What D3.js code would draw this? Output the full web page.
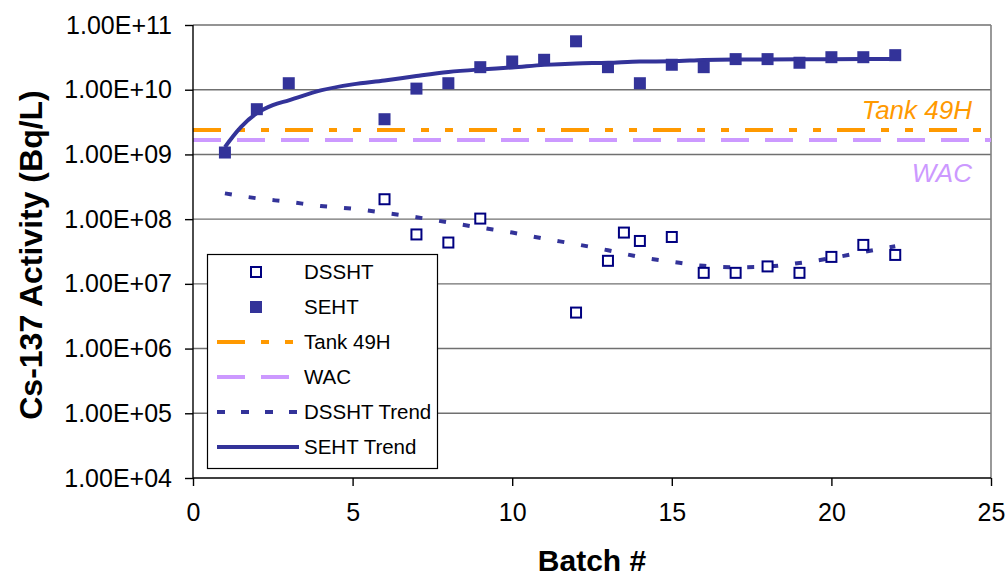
<!DOCTYPE html>
<html>
<head>
<meta charset="utf-8">
<script src="https://cdn.jsdelivr.net/npm/d3@7"></script>
<style>
    body { margin: 0; background: #fff; }
    svg { display: block; font-family: "Liberation Sans", Arial, sans-serif; }
</style>
</head>
<body>
<svg id="chart" width="1008" height="579"></svg>
<script>
// DATA
// Batch numbers and Cs-137 activity (Bq/L).
var seht_batch = [1, 2, 3, 6, 7, 8, 9, 10, 11, 12, 13, 14, 15, 16, 17, 18, 19, 20, 21, 22];
var seht = [1.07e9, 5.0e9, 1.26e10, 3.5e9, 1.04e10, 1.26e10, 2.23e10, 2.73e10, 2.9e10, 5.6e10,
    2.23e10, 1.26e10, 2.43e10, 2.23e10, 2.97e10, 2.97e10, 2.61e10, 3.18e10, 3.18e10, 3.42e10];

var dssht_batch = [6, 7, 8, 9, 12, 13, 13.5, 14, 15, 16, 17, 18, 19, 20, 21, 22];
var dssht = [2.03e8, 5.8e7, 4.35e7, 1.02e8, 3.6e6, 2.27e7, 6.2e7, 4.6e7, 5.3e7,
    1.48e7, 1.48e7, 1.86e7, 1.48e7, 2.61e7, 4.0e7, 2.8e7];

var seht_trend_batch = [1, 1.25, 1.5, 2, 2.5, 3, 4, 5, 6, 7, 8, 9, 10, 11, 12, 13, 14, 15, 16, 17, 18, 19, 20, 21, 22];
var seht_trend = [1.3e9, 1.9e9, 2.65e9, 4.35e9, 5.8e9, 6.85e9, 9.75e9, 1.21e10, 1.39e10, 1.63e10, 1.88e10,
    2.06e10, 2.21e10, 2.42e10, 2.55e10, 2.6e10, 2.73e10, 2.75e10, 2.88e10, 2.93e10, 2.94e10, 2.95e10,
    2.96e10, 2.97e10, 2.98e10];

var dssht_trend_batch = [1, 2, 3, 4, 5, 6, 7, 8, 9, 10, 11, 12, 13, 14, 15, 16, 17, 18, 19, 20, 21, 22];
var dssht_trend = [2.5e8, 2.1e8, 1.85e8, 1.6e8, 1.45e8, 1.25e8, 1.07e8, 8.9e7, 7.4e7, 6.2e7, 5.0e7,
    4.1e7, 3.3e7, 2.6e7, 2.2e7, 1.9e7, 1.8e7, 1.85e7, 2.1e7, 2.5e7, 3.1e7, 3.8e7];

var tank_49h = 2.38e9;
var wac = 1.67e9;

var x_ticks = [0, 5, 10, 15, 20, 25];
var y_ticks = [1e4, 1e5, 1e6, 1e7, 1e8, 1e9, 1e10, 1e11];

var legend_labels = ['DSSHT', 'SEHT', 'Tank 49H', 'WAC', 'DSSHT Trend', 'SEHT Trend'];

// UTILS
var utils = {
    pair: function(xs, ys) {
        // Zip two arrays into a list of {x, y} points.
        return xs.map(function(d, i) { return { x: d, y: ys[i] }; });
    },
    sci: function(d) {
        // 1e9 -> "1.00E+09"
        var e = Math.round(Math.log10(d));
        return '1.00E+' + (e < 10 ? '0' + e : e);
    }
};

// CHART
var chrt = {
    config: {
        left: 193,
        right: 991,
        top: 25,
        bottom: 478,
        navy: '#333399',
        dark_navy: '#000080',
        orange: '#FF9900',
        lavender: '#CC99FF'
    },
    build_chart: function() {
        var c = this.config;
        var svg = d3.select('svg#chart');

        var x = d3.scaleLinear().domain([0, 25]).range([c.left, c.right]);
        var y = d3.scaleLog().domain([1e4, 1e11]).range([c.bottom, c.top]);

        // Gridlines
        svg.append('g')
            .selectAll('line')
            .data(y_ticks.slice(1))
            .join('line')
                .attr('x1', c.left)
                .attr('x2', c.right)
                .attr('y1', function(d) { return y(d); })
                .attr('y2', function(d) { return y(d); })
                .attr('stroke', '#707070')
                .attr('stroke-width', 1.4);

        // Plot frame, right side
        svg.append('line')
            .attr('x1', c.right).attr('x2', c.right)
            .attr('y1', c.top).attr('y2', c.bottom)
            .attr('stroke', '#808080')
            .attr('stroke-width', 1.6);

        // Limit lines
        svg.append('line')
            .attr('x1', x(0)).attr('x2', x(25))
            .attr('y1', y(tank_49h)).attr('y2', y(tank_49h))
            .attr('stroke', c.orange)
            .attr('stroke-width', 4)
            .attr('stroke-dasharray', '28,16,8,16,8,16');

        svg.append('line')
            .attr('x1', x(0)).attr('x2', x(25))
            .attr('y1', y(wac)).attr('y2', y(wac))
            .attr('stroke', c.lavender)
            .attr('stroke-width', 4)
            .attr('stroke-dasharray', '28,16');

        svg.append('text')
            .attr('x', 972).attr('y', y(tank_49h) - 11)
            .attr('text-anchor', 'end')
            .attr('font-size', 26)
            .attr('font-style', 'italic')
            .attr('fill', c.orange)
            .text('Tank 49H');

        svg.append('text')
            .attr('x', 972).attr('y', y(wac) + 42)
            .attr('text-anchor', 'end')
            .attr('font-size', 26)
            .attr('font-style', 'italic')
            .attr('fill', c.lavender)
            .text('WAC');

        // Trend lines
        var line = d3.line()
            .x(function(d) { return x(d.x); })
            .y(function(d) { return y(d.y); })
            .curve(d3.curveMonotoneX);

        svg.append('path')
            .datum(utils.pair(dssht_trend_batch, dssht_trend))
            .attr('d', line)
            .attr('fill', 'none')
            .attr('stroke', c.navy)
            .attr('stroke-width', 4)
            .attr('stroke-dasharray', '7,17');

        svg.append('path')
            .datum(utils.pair(seht_trend_batch, seht_trend))
            .attr('d', line)
            .attr('fill', 'none')
            .attr('stroke', c.navy)
            .attr('stroke-width', 4);

        // Points
        svg.append('g')
            .selectAll('rect')
            .data(utils.pair(seht_batch, seht))
            .join('rect')
                .attr('x', function(d) { return x(d.x) - 6; })
                .attr('y', function(d) { return y(d.y) - 6; })
                .attr('width', 12)
                .attr('height', 12)
                .attr('fill', c.navy);

        svg.append('g')
            .selectAll('rect')
            .data(utils.pair(dssht_batch, dssht))
            .join('rect')
                .attr('x', function(d) { return x(d.x) - 5; })
                .attr('y', function(d) { return y(d.y) - 5; })
                .attr('width', 10)
                .attr('height', 10)
                .attr('fill', '#fff')
                .attr('stroke', c.dark_navy)
                .attr('stroke-width', 2);

        // Axes
        var y_axis = svg.append('g')
            .attr('transform', 'translate(' + c.left + ',0)')
            .call(d3.axisLeft(y).tickValues(y_ticks).tickFormat(utils.sci).tickSize(8).tickPadding(13));
        y_axis.select('.domain').attr('d', 'M0,' + c.top + 'V' + c.bottom);

        var x_axis = svg.append('g')
            .attr('transform', 'translate(0,' + c.bottom + ')')
            .call(d3.axisBottom(x).tickValues(x_ticks).tickFormat(d3.format('d')).tickSize(8).tickPadding(17));
        x_axis.select('.domain').attr('d', 'M' + c.left + ',0H' + c.right);

        svg.selectAll('.domain, .tick line')
            .attr('stroke', '#000')
            .attr('stroke-width', 1.4);
        svg.selectAll('.tick text')
            .attr('font-family', '"Liberation Sans", Arial, sans-serif')
            .attr('font-size', 25)
            .attr('fill', '#000');

        // Axis titles
        svg.append('text')
            .attr('transform', 'translate(42,255) rotate(-90)')
            .attr('text-anchor', 'middle')
            .attr('font-size', 32)
            .attr('font-weight', 'bold')
            .text('Cs-137 Activity (Bq/L)');

        svg.append('text')
            .attr('x', 592).attr('y', 571)
            .attr('text-anchor', 'middle')
            .attr('font-size', 30)
            .attr('font-weight', 'bold')
            .text('Batch #');

        this.build_legend(svg);
    },
    build_legend: function(svg) {
        var c = this.config;
        var g = svg.append('g');
        var row = d3.scaleLinear().domain([0, 5]).range([272, 447]);

        g.append('rect')
            .attr('x', 207.5).attr('y', 254.5)
            .attr('width', 230).attr('height', 214)
            .attr('fill', '#fff')
            .attr('stroke', '#000')
            .attr('stroke-width', 1.2);

        g.append('rect')
            .attr('x', 251).attr('y', row(0) - 5)
            .attr('width', 10).attr('height', 10)
            .attr('fill', '#fff')
            .attr('stroke', c.dark_navy)
            .attr('stroke-width', 2);

        g.append('rect')
            .attr('x', 250).attr('y', row(1) - 6)
            .attr('width', 12).attr('height', 12)
            .attr('fill', c.navy);

        var swatches = [
            { i: 2, color: c.orange, dash: '28,16,8,16,8,16' },
            { i: 3, color: c.lavender, dash: '28,16' },
            { i: 4, color: c.navy, dash: '8,16' },
            { i: 5, color: c.navy, dash: null }
        ];
        g.selectAll('line.swatch')
            .data(swatches)
            .join('line')
                .attr('class', 'swatch')
                .attr('x1', 217).attr('x2', 299)
                .attr('y1', function(d) { return row(d.i); })
                .attr('y2', function(d) { return row(d.i); })
                .attr('stroke', function(d) { return d.color; })
                .attr('stroke-width', 4)
                .attr('stroke-dasharray', function(d) { return d.dash; });

        g.selectAll('text')
            .data(legend_labels)
            .join('text')
                .attr('x', 304)
                .attr('y', function(d, i) { return row(i); })
                .attr('dy', '0.36em')
                .attr('font-size', 20.5)
                .text(function(d) { return d; });
    },
    init: function() {
        chrt.build_chart();
    }
};

chrt.init();
</script>
</body>
</html>
